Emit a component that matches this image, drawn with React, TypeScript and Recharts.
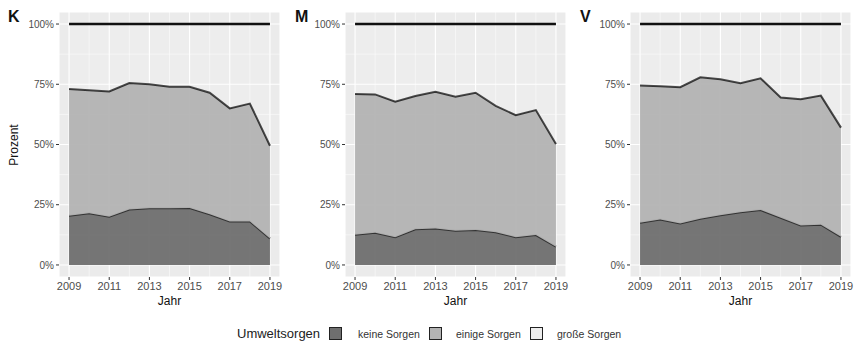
import React from 'react';
import { AreaChart, Area, XAxis, YAxis, CartesianGrid } from 'recharts';

const years = [2009, 2010, 2011, 2012, 2013, 2014, 2015, 2016, 2017, 2018, 2019];
const yearTicks = [2009, 2011, 2013, 2015, 2017, 2019];
const minorYears = [2010, 2012, 2014, 2016, 2018];
const pctTicks = [0, 25, 50, 75, 100];
const minorPct = [12.5, 37.5, 62.5, 87.5];

// K
const keineK = [20.4, 21.5, 20, 23, 23.5, 23.5, 23.6, 21, 18, 18, 11];
const einigeK = [52.6, 51, 52, 52.5, 51.5, 50.5, 50.4, 50.5, 47, 49, 38.5];
const grosseK = [27, 27.5, 28, 24.5, 25, 26, 26, 28.5, 35, 33, 50.5];
// M
const keineM = [12.5, 13.4, 11.5, 14.8, 15.1, 14.2, 14.5, 13.6, 11.5, 12.4, 7.6];
const einigeM = [58.5, 57.4, 56.3, 55.3, 56.8, 55.6, 57, 52.4, 50.7, 51.9, 42.6];
const grosseM = [29, 29.2, 32.2, 29.9, 28.1, 30.2, 28.5, 34, 37.8, 35.7, 49.8];
// V
const keineV = [17.5, 18.9, 17.2, 19.2, 20.6, 21.9, 22.8, 19.6, 16.4, 16.7, 11.7];
const einigeV = [57, 55.3, 56.6, 58.7, 56.5, 53.5, 54.7, 49.9, 52.4, 53.6, 45.3];
const grosseV = [25.5, 25.8, 26.2, 22.1, 22.9, 24.6, 22.5, 30.5, 31.2, 29.7, 43];

const panels = [
  { label: 'K', left: -1, keine: keineK, einige: einigeK, grosse: grosseK },
  { label: 'M', left: 285, keine: keineM, einige: einigeM, grosse: grosseM },
  { label: 'V', left: 570, keine: keineV, einige: einigeV, grosse: grosseV },
];

const DARK = '#6f6f6f';
const LIGHT = '#b3b3b3';
const PALE = '#ededed';
const font = '"Liberation Sans", Arial, sans-serif';

function Panel({ p }: { p: (typeof panels)[number] }) {
  const data = years.map((year, i) => ({
    year,
    keine: p.keine[i],
    einige: p.einige[i],
    grosse: p.grosse[i],
  }));
  return (
    <div style={{ position: 'absolute', left: p.left, top: 0 }}>
      <AreaChart width={286} height={297} data={data} margin={{ top: 12, right: 5, bottom: 0, left: 0 }}>
        <CartesianGrid stroke='#ffffff' fill='#ebebeb' strokeWidth={1.1} />
        <CartesianGrid
          stroke='#ffffff'
          fill='none'
          strokeWidth={0.5}
          horizontalValues={minorPct}
          verticalValues={minorYears}
        />
        <XAxis
          dataKey='year'
          type='number'
          domain={[2008.5, 2019.5]}
          ticks={yearTicks}
          axisLine={false}
          tickLine={{ stroke: '#333' }}
          tickSize={3}
          height={20}
          tick={{ fill: '#4d4d4d', fontSize: 11, fontFamily: font }}
          allowDataOverflow
        />
        <YAxis
          type='number'
          domain={[-5, 105]}
          ticks={pctTicks}
          tickFormatter={(v) => `${v}%`}
          axisLine={false}
          tickLine={{ stroke: '#333' }}
          tickSize={3}
          width={60}
          tick={{ fill: '#4d4d4d', fontSize: 10, fontFamily: font }}
          allowDataOverflow
        />
        <Area
          dataKey='keine'
          stackId='a'
          type='linear'
          fill={DARK}
          fillOpacity={0.95}
          stroke='#333'
          strokeWidth={2}
          isAnimationActive={false}
        />
        <Area
          dataKey='einige'
          stackId='a'
          type='linear'
          fill={LIGHT}
          fillOpacity={0.95}
          stroke='#333'
          strokeWidth={2}
          isAnimationActive={false}
        />
        <Area
          dataKey='grosse'
          stackId='a'
          type='linear'
          fill='#ffffff'
          fillOpacity={0.12}
          stroke='#111'
          strokeWidth={2.5}
          isAnimationActive={false}
        />
      </AreaChart>
      <div
        style={{
          position: 'absolute',
          left: p.label === 'K' ? 9 : p.label === 'M' ? 10 : 10,
          top: 8,
          fontSize: 16,
          fontWeight: 'bold',
          fontFamily: font,
          color: '#111',
        }}
      >
        {p.label}
      </div>
      <div
        style={{
          position: 'absolute',
          left: 60,
          width: 221,
          top: 294,
          textAlign: 'center',
          fontSize: 12,
          fontFamily: font,
          color: '#111',
        }}
      >
        Jahr
      </div>
    </div>
  );
}

function LegendBox({ color }: { color: string }) {
  return (
    <span
      style={{
        display: 'inline-block',
        width: 11,
        height: 11,
        background: color,
        border: '1.5px solid #222',
      }}
    />
  );
}

export default function App() {
  const items = [
    { name: 'keine Sorgen', color: DARK, x: 329, tx: 358 },
    { name: 'einige Sorgen', color: LIGHT, x: 429, tx: 456 },
    { name: 'große Sorgen', color: PALE, x: 530, tx: 557 },
  ];
  return (
    <div
      style={{
        position: 'absolute',
        left: 0,
        top: 0,
        width: 855,
        height: 346,
        background: '#ffffff',
        overflow: 'hidden',
        fontFamily: font,
      }}
    >
      {panels.map((p) => (
        <Panel key={p.label} p={p} />
      ))}
      <div
        style={{
          position: 'absolute',
          left: 4,
          top: 145,
          transform: 'translate(-50%, -50%) rotate(-90deg) translate(0, 0)',
          transformOrigin: 'center',
          fontSize: 12,
          color: '#111',
          marginLeft: 10,
        }}
      >
        Prozent
      </div>
      <div style={{ position: 'absolute', left: 237, top: 326, fontSize: 13, color: '#222' }}>
        Umweltsorgen
      </div>
      {items.map((it) => (
        <React.Fragment key={it.name}>
          <div style={{ position: 'absolute', left: it.x, top: 327, lineHeight: 0 }}>
            <LegendBox color={it.color} />
          </div>
          <div style={{ position: 'absolute', left: it.tx, top: 328, fontSize: 10.5, color: '#333' }}>
            {it.name}
          </div>
        </React.Fragment>
      ))}
    </div>
  );
}
